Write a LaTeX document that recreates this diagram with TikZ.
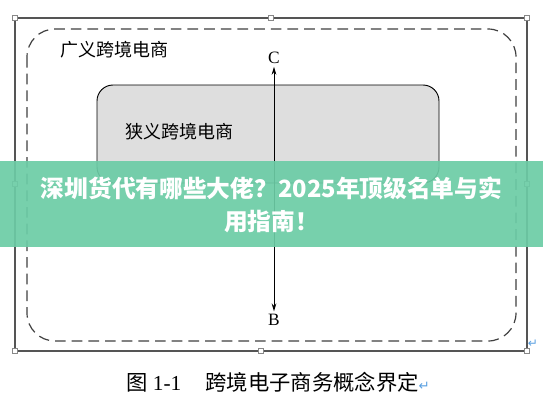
\documentclass[tikz,border=0pt]{standalone}
\usepackage{fontspec}
\setmainfont{Liberation Serif}
\newfontfamily\cjk{Noto Sans CJK SC}
\newfontfamily\symfont{DejaVu Sans}
\usetikzlibrary{arrows.meta}
\definecolor{framegray}{RGB}{85,85,85}
\definecolor{boxgray}{RGB}{222,222,222}
\definecolor{bannergreen}{RGB}{108,204,166}
\definecolor{markblue}{RGB}{90,160,225}
\tikzset{
  handle/.style={draw=framegray!70, fill=white, line width=0.4pt, minimum size=3.6pt, inner sep=0pt, rectangle},
  cjklabel/.style={font=\cjk\fontsize{13.5pt}{15pt}\selectfont, inner sep=0pt},
  letter/.style={font=\fontsize{13pt}{14pt}\selectfont, inner sep=0pt},
  retmark/.style={font=\symfont\fontsize{9pt}{10pt}\selectfont, text=markblue, inner sep=0pt}
}
\begin{document}
\begin{tikzpicture}[x=0.75pt,y=-0.75pt]
\useasboundingbox (0,0) rectangle (543,408);
\fill[white] (0,0) rectangle (543,408);
% outer frame
\draw[framegray, line width=1.1pt] (15,18) rectangle (527,351);
% handles
\node[handle] (h1) at (15,18) {};
\node[handle] (h2) at (271,18) {};
\node[handle] (h3) at (527,18) {};
\node[handle] (h4) at (15,184) {};
\node[handle] (h5) at (527,184) {};
\node[handle] (h6) at (15,351) {};
\node[handle] (h7) at (261,351) {};
\node[handle] (h8) at (527,351) {};
% dashed broad region
\draw[black!75, line width=0.9pt, dash pattern=on 8pt off 4.5pt, rounded corners=21pt] (27,29) rectangle (516,341);
\node[cjklabel, anchor=west] (broad) at (60,50) {广义跨境电商};
% narrow region
\draw[black, fill=boxgray, line width=0.7pt, rounded corners=12pt] (97,85) rectangle (439,183);
\node[cjklabel, anchor=west] (narrow) at (125,132) {狭义跨境电商};
% axis
\node[letter] (C) at (274,58) {C};
\node[letter] (B) at (274,320) {B};
\draw[line width=0.7pt, {Stealth[length=6pt,width=3.5pt]}-{Stealth[length=6pt,width=3.5pt]}] ([yshift=-2pt]C.south) -- ([yshift=2pt]B.north);
\node[retmark] (r1) at (533,344) {↵};
% banner
\fill[bannergreen, opacity=0.92] (0,161) rectangle (543,247);
\node[font=\cjk\bfseries\fontsize{17.8pt}{20pt}\selectfont, text=white, align=center, inner sep=0pt] (banner) at (271.5,205) {深圳货代有哪些大佬？2025年顶级名单与实\\[5pt]用指南！};
% caption
\node[font=\fontsize{16pt}{17pt}\selectfont, anchor=west, inner sep=0pt] (cap) at (126,382) {{\cjk 图} 1-1\hspace{18pt}{\cjk 跨境电子商务概念界定}{\symfont\color{markblue}\fontsize{10pt}{11pt}\selectfont ↵}};
\end{tikzpicture}
\end{document}
